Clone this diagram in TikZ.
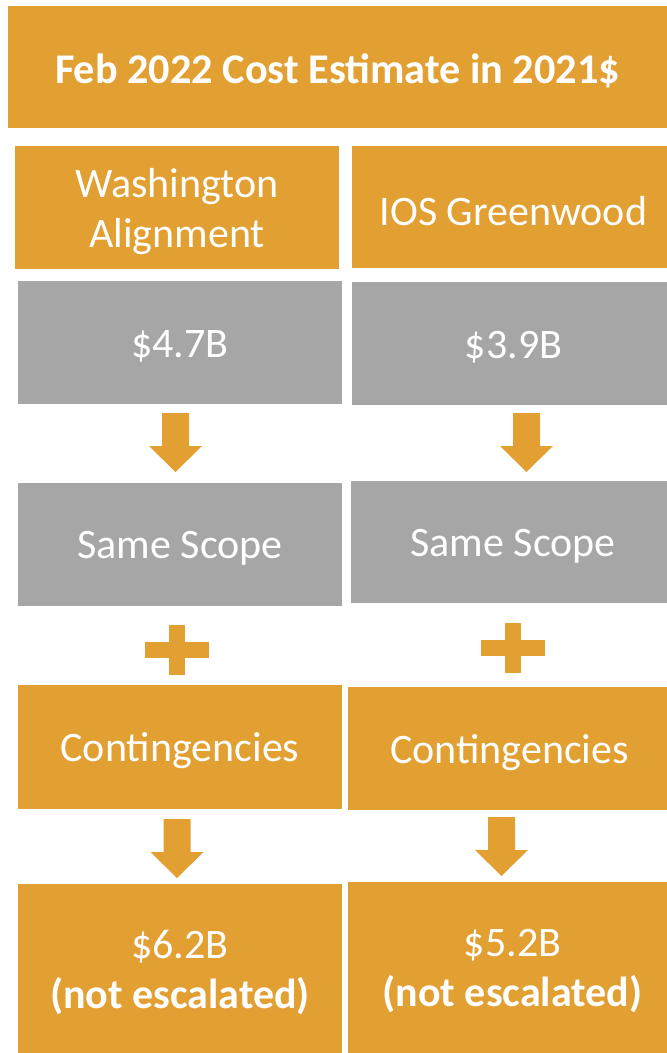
\documentclass[tikz,border=0pt]{standalone}
\usepackage{fontspec}
\setmainfont{Carlito}
\definecolor{orng}{HTML}{E29F32}
\definecolor{gry}{HTML}{A6A6A6}
\tikzset{
  box/.style={rectangle, inner sep=0pt},
  obox/.style={box, fill=orng},
  gbox/.style={box, fill=gry},
  txt/.style={text=white, align=center, inner sep=0pt, font=\fontsize{42}{50}\selectfont},
  downarr/.pic={\fill[orng] (-13.5,0) -- (13.5,0) -- (13.5,-33) -- (26.5,-33) -- (0,-59) -- (-26.5,-33) -- (-13.5,-33) -- cycle;},
  plussign/.pic={\fill[orng] (-8,-25) rectangle (8,25); \fill[orng] (-32,-8) rectangle (32,8);}
}
\begin{document}
\begin{tikzpicture}[x=1pt,y=1pt]
\useasboundingbox (0,0) rectangle (667,-1053);
\node[obox, minimum width=659pt, minimum height=122pt] (title) at (337.5,-67) {};
\node[obox, minimum width=324pt, minimum height=123pt] (wa) at (177,-207.5) {};
\node[obox, minimum width=315pt, minimum height=122pt] (ios) at (509.5,-207) {};
\node[gbox, minimum width=324pt, minimum height=123pt] (g1) at (180,-342.5) {};
\node[gbox, minimum width=315pt, minimum height=123pt] (g2) at (509.5,-343.5) {};
\node[gbox, minimum width=324pt, minimum height=123pt] (s1) at (180,-544.5) {};
\node[gbox, minimum width=316pt, minimum height=122pt] (s2) at (509,-542) {};
\node[obox, minimum width=324pt, minimum height=124pt] (c1) at (180,-747) {};
\node[obox, minimum width=319pt, minimum height=123pt] (c2) at (507.5,-748.5) {};
\node[obox, minimum width=324pt, minimum height=169pt] (b1) at (180,-968.5) {};
\node[obox, minimum width=319pt, minimum height=171pt] (b2) at (507.5,-967.5) {};
\node[txt, font=\fontsize{42.3}{50}\selectfont\bfseries] (titletxt) at ([yshift=-4pt]title.center) {Feb 2022 Cost Estimate in 2021\$};
\node[txt] (watxt) at ([yshift=-4pt]wa.center) {Washington\\Alignment};
\node[txt] (iostxt) at ([xshift=4pt,yshift=-4pt]ios.center) {IOS Greenwood};
\node[txt] (g1txt) at ([yshift=-4pt]g1.center) {\$4.7B};
\node[txt] (g2txt) at ([xshift=4pt,yshift=-4pt]g2.center) {\$3.9B};
\node[txt] (s1txt) at ([yshift=-4pt]s1.center) {Same Scope};
\node[txt] (s2txt) at ([xshift=4pt,yshift=-4pt]s2.center) {Same Scope};
\node[txt] (c1txt) at ([yshift=-4pt]c1.center) {Contingencies};
\node[txt] (c2txt) at ([xshift=2pt,yshift=-4pt]c2.center) {Contingencies};
\node[txt] (b1txt) at ([yshift=-4pt]b1.center) {\$6.2B\\\bfseries (not escalated)};
\node[txt] (b2txt) at ([xshift=5pt,yshift=-4pt]b2.center) {\$5.2B\\\bfseries (not escalated)};
\pic at (175.5,-413) {downarr};
\pic at (526.5,-413) {downarr};
\pic at (177,-819) {downarr};
\pic at (501.5,-817) {downarr};
\pic at (177,-650) {plussign};
\pic at (513,-648) {plussign};
\end{tikzpicture}
\end{document}
